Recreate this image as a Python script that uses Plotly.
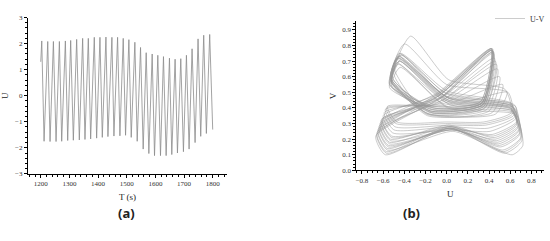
import plotly.graph_objects as go

########################################################################################
## DATA
########################################################################################

# (a) time series: start point, then alternating peaks / troughs
t_start, u_start = 1200, 1.3
peak_t = [1203.5, 1224.4, 1244.1, 1265.0, 1285.9, 1304.4, 1325.3, 1346.2, 1366.0, 1386.8,
          1406.6, 1427.5, 1448.3, 1468.1, 1487.8, 1507.5, 1528.4, 1548.2, 1567.9, 1588.8,
          1608.5, 1628.2, 1649.1, 1668.8, 1688.6, 1708.3, 1728.0, 1748.9, 1768.6, 1789.5]
peak_u = [2.10, 2.08, 2.08, 2.08, 2.10, 2.12, 2.16, 2.20, 2.20, 2.24,
          2.24, 2.25, 2.24, 2.24, 2.20, 2.15, 2.05, 1.85, 1.65, 1.60,
          1.55, 1.50, 1.44, 1.40, 1.42, 1.55, 1.80, 2.18, 2.32, 2.35]
trough_t = [1211.6, 1232.5, 1253.4, 1273.1, 1294.0, 1313.7, 1334.6, 1354.3, 1374.1, 1395.0,
            1414.7, 1434.4, 1455.3, 1476.2, 1495.9, 1515.7, 1536.5, 1557.4, 1577.2, 1596.9,
            1617.8, 1637.5, 1657.2, 1677.0, 1697.8, 1717.6, 1738.5, 1758.2, 1777.9, 1800.0]
trough_u = [-1.75, -1.76, -1.76, -1.75, -1.72, -1.71, -1.70, -1.68, -1.66, -1.63,
            -1.60, -1.57, -1.55, -1.54, -1.52, -1.60, -1.75, -2.05, -2.22, -2.30,
            -2.30, -2.30, -2.26, -2.20, -2.15, -2.05, -1.80, -1.56, -1.45, -1.30]

# (b) phase portrait U-V: key points of each loop
ul_u = [-0.45, -0.46, -0.47, -0.45, -0.44, -0.46, -0.47, -0.45, -0.43, -0.44, -0.46, -0.45, -0.40, -0.34, -0.47, -0.46, -0.44, -0.45]
ul_v = [0.74, 0.73, 0.72, 0.75, 0.74, 0.72, 0.71, 0.73, 0.74, 0.75, 0.72, 0.70, 0.81, 0.86, 0.69, 0.68, 0.66, 0.70]
md_u = [0.00, 0.02, 0.01, -0.02, 0.00, 0.03, 0.01, 0.00, -0.02, 0.00, 0.02, 0.01, 0.00, 0.02, 0.03, 0.00, 0.01, 0.02]
md_v = [0.47, 0.46, 0.45, 0.48, 0.49, 0.46, 0.44, 0.47, 0.50, 0.51, 0.45, 0.43, 0.55, 0.58, 0.42, 0.41, 0.40, 0.44]
rs_u = [0.62, 0.63, 0.61, 0.64, 0.62, 0.60, 0.63, 0.65, 0.62, 0.61, 0.64, 0.63, 0.58, 0.55, 0.62, 0.63, 0.64, 0.61]
rs_v = [0.41, 0.40, 0.39, 0.42, 0.41, 0.40, 0.38, 0.41, 0.42, 0.43, 0.40, 0.39, 0.50, 0.52, 0.38, 0.37, 0.36, 0.40]
re_u = [0.71, 0.70, 0.69, 0.68, 0.67, 0.66, 0.66, 0.65, 0.64, 0.63, 0.70, 0.72, 0.62, 0.61, 0.69, 0.68, 0.67, 0.66]
re_v = [0.19, 0.21, 0.23, 0.25, 0.27, 0.29, 0.31, 0.33, 0.34, 0.35, 0.20, 0.16, 0.36, 0.37, 0.24, 0.26, 0.28, 0.30]
rb_u = [0.55, 0.53, 0.51, 0.49, 0.47, 0.45, 0.43, 0.41, 0.39, 0.37, 0.54, 0.62, 0.36, 0.35, 0.50, 0.48, 0.46, 0.44]
rb_v = [0.11, 0.13, 0.15, 0.17, 0.19, 0.21, 0.23, 0.25, 0.27, 0.29, 0.12, 0.10, 0.30, 0.31, 0.16, 0.18, 0.20, 0.22]
c_u = [0.03, 0.04, 0.02, 0.05, 0.03, 0.02, 0.04, 0.05, 0.03, 0.02, 0.04, 0.06, 0.01, 0.00, 0.04, 0.05, 0.05, 0.03]
c_v = [0.27, 0.28, 0.27, 0.26, 0.28, 0.29, 0.27, 0.26, 0.28, 0.29, 0.27, 0.25, 0.30, 0.31, 0.27, 0.26, 0.26, 0.28]
lb_u = [-0.58, -0.57, -0.56, -0.55, -0.54, -0.53, -0.52, -0.51, -0.50, -0.49, -0.57, -0.56, -0.48, -0.47, -0.55, -0.54, -0.53, -0.52]
lb_v = [0.10, 0.12, 0.14, 0.16, 0.18, 0.20, 0.22, 0.24, 0.26, 0.28, 0.11, 0.13, 0.30, 0.31, 0.15, 0.17, 0.19, 0.21]
le_u = [-0.67, -0.66, -0.65, -0.64, -0.63, -0.62, -0.61, -0.60, -0.59, -0.58, -0.66, -0.65, -0.57, -0.56, -0.64, -0.63, -0.62, -0.61]
le_v = [0.22, 0.24, 0.26, 0.28, 0.30, 0.32, 0.33, 0.35, 0.37, 0.39, 0.23, 0.25, 0.40, 0.41, 0.27, 0.29, 0.31, 0.33]
ma_u = [-0.05, -0.06, -0.04, -0.07, -0.05, -0.03, -0.06, -0.08, -0.05, -0.02, -0.07, -0.06, 0.00, 0.02, -0.07, -0.06, -0.08, -0.04]
ma_v = [0.47, 0.46, 0.45, 0.48, 0.47, 0.44, 0.46, 0.49, 0.47, 0.43, 0.48, 0.50, 0.42, 0.41, 0.48, 0.49, 0.50, 0.45]
ur_u = [0.43, 0.44, 0.46, 0.43, 0.42, 0.48, 0.45, 0.43, 0.44, 0.50, 0.43, 0.42, 0.53, 0.57, 0.44, 0.43, 0.42, 0.47]
ur_v = [0.77, 0.75, 0.70, 0.78, 0.77, 0.65, 0.72, 0.78, 0.76, 0.60, 0.77, 0.78, 0.55, 0.50, 0.76, 0.77, 0.78, 0.68]
sd_u = [0.34, 0.35, 0.36, 0.33, 0.34, 0.38, 0.35, 0.33, 0.34, 0.40, 0.33, 0.32, 0.43, 0.46, 0.34, 0.33, 0.32, 0.36]
sd_v = [0.42, 0.41, 0.40, 0.43, 0.42, 0.39, 0.41, 0.43, 0.42, 0.38, 0.43, 0.44, 0.37, 0.36, 0.42, 0.43, 0.44, 0.40]
rp_u = [-0.15, -0.14, -0.16, -0.13, -0.15, -0.17, -0.14, -0.12, -0.15, -0.18, -0.13, -0.12, -0.19, -0.20, -0.15, -0.14, -0.13, -0.16]
rp_v = [0.38, 0.37, 0.36, 0.39, 0.38, 0.36, 0.37, 0.40, 0.39, 0.35, 0.40, 0.41, 0.36, 0.37, 0.38, 0.39, 0.40, 0.37]
uc_u = [-0.52, -0.53, -0.52, -0.51, -0.53, -0.52, -0.54, -0.52, -0.51, -0.53, -0.52, -0.54, -0.50, -0.49, -0.53, -0.52, -0.54, -0.52]
uc_v = [0.58, 0.57, 0.56, 0.59, 0.58, 0.57, 0.55, 0.58, 0.59, 0.60, 0.56, 0.55, 0.62, 0.64, 0.55, 0.54, 0.53, 0.57]

########################################################################################
## BUILD LINES
########################################################################################
t_a, u_a = [t_start], [u_start]
for pt, pu, tt, tu in zip(peak_t, peak_u, trough_t, trough_u):
    t_a += [pt, tt]
    u_a += [pu, tu]

key_u = [ul_u, md_u, rs_u, re_u, rb_u, c_u, lb_u, le_u, ma_u, ur_u, sd_u, rp_u, uc_u]
key_v = [ul_v, md_v, rs_v, re_v, rb_v, c_v, lb_v, le_v, ma_v, ur_v, sd_v, rp_v, uc_v]
u_b, v_b = [], []
for i in range(len(ul_u)):
    u_b += [k[i] for k in key_u]
    v_b += [k[i] for k in key_v]
u_b.append(ul_u[-1])
v_b.append(ul_v[-1])

########################################################################################
## FIGURE
########################################################################################
serif = 'Liberation Serif'
fig = go.Figure()
fig.add_trace(go.Scatter(x=t_a, y=u_a, mode='lines', showlegend=False,
                         line=dict(color='#8c8c8c', width=0.8), xaxis='x', yaxis='y'))
fig.add_trace(go.Scatter(x=u_b, y=v_b, mode='lines', name='U-V',
                         line=dict(color='#999999', width=0.5, shape='spline', smoothing=0.6),
                         xaxis='x2', yaxis='y2'))

axis_common = dict(showline=True, linecolor='black', linewidth=1, ticks='outside', ticklen=3,
                   tickcolor='black', showgrid=False, zeroline=False,
                   tickfont=dict(family=serif, size=7, color='#333'),
                   minor=dict(ticks='outside', ticklen=2, tickcolor='black'))

fig.update_layout(
    width=550, height=241, margin=dict(l=0, r=0, t=0, b=0),
    paper_bgcolor='white', plot_bgcolor='white',
    xaxis=dict(domain=[0.049, 0.413], range=[1155, 1851], tick0=1200, dtick=100,
               title=dict(text='T (s)', font=dict(family=serif, size=9, color='#222'), standoff=6),
               anchor='y', **axis_common),
    yaxis=dict(domain=[0.271, 0.942], range=[-3, 3], dtick=1,
               title=dict(text='U', font=dict(family=serif, size=9, color='#222'), standoff=4),
               anchor='x', **axis_common),
    xaxis2=dict(domain=[0.6485, 0.991], range=[-0.853, 0.92], tick0=0, dtick=0.2, tickformat='.1f',
                title=dict(text='U', font=dict(family=serif, size=9, color='#222'), standoff=6),
                anchor='y2', **axis_common),
    yaxis2=dict(domain=[0.286, 0.925], range=[0, 0.954], dtick=0.1, tickformat='.1f',
                title=dict(text='V', font=dict(family=serif, size=9, color='#222'), standoff=4),
                anchor='x2', **axis_common),
    legend=dict(x=0.893, y=1.0, xanchor='left', yanchor='top', bgcolor='rgba(0,0,0,0)',
                font=dict(family=serif, size=8, color='#333'), itemwidth=30),
    annotations=[
        dict(text='<b>(a)</b>', x=0.209, y=0.054, xref='paper', yref='paper', showarrow=False,
             font=dict(family='Noto Sans', size=13, color='#222')),
        dict(text='<b>(b)</b>', x=0.769, y=0.054, xref='paper', yref='paper', showarrow=False,
             font=dict(family='Noto Sans', size=13, color='#222')),
    ],
)

# drop the browser's default page margin so the figure sits at the top-left corner
fig.write_html("out.html", config={'displayModeBar': False},
               post_script="document.body.style.margin='0';")
